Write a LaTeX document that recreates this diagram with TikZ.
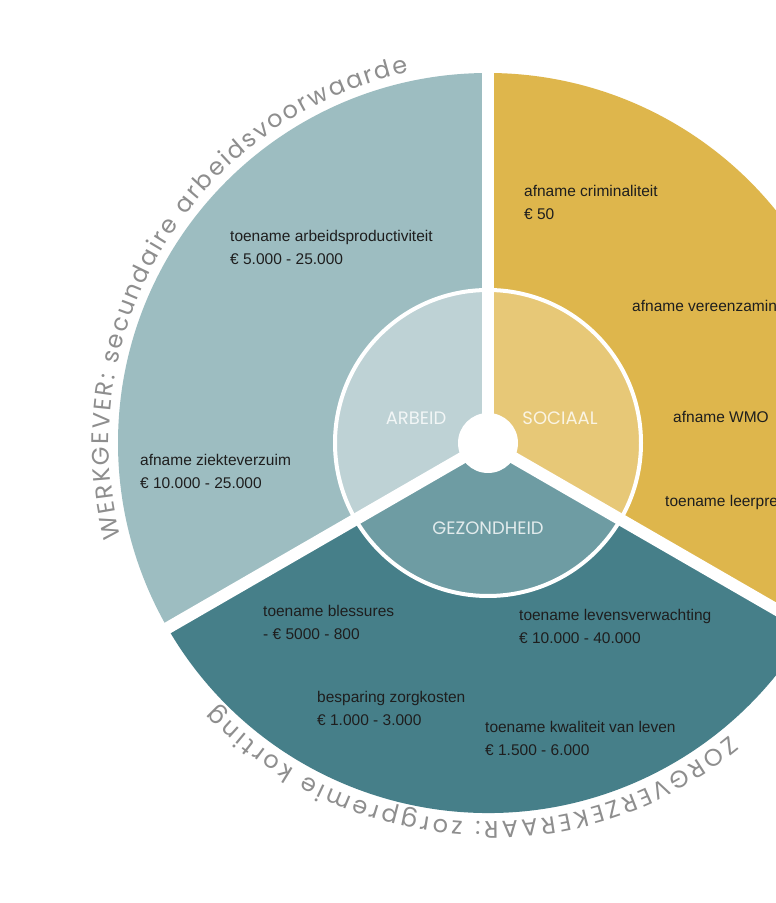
\documentclass[tikz,border=0pt]{standalone}
\usepackage{fontspec}
\setmainfont{Liberation Sans}
\newfontfamily\arcfont{Poppins}
\usepackage{tikz}
\usetikzlibrary{decorations.text}
\usepackage{xcolor}
\definecolor{arbeidout}{HTML}{9DBDC1}
\definecolor{arbeidin}{HTML}{BED2D5}
\definecolor{sociaalout}{HTML}{DEB64C}
\definecolor{sociaalin}{HTML}{E7C877}
\definecolor{gezondout}{HTML}{467F89}
\definecolor{gezondin}{HTML}{6E9CA3}
\definecolor{itemtext}{HTML}{1E1E1E}
\definecolor{arctext}{HTML}{8E8E8E}

\begin{document}
\begin{tikzpicture}[x=1pt, y=1pt,
  effect/.style={anchor=west, align=left, inner sep=0pt, text=itemtext, font=\fontsize{15.5}{23}\selectfont},
  domainlabel/.style={inner sep=0pt, text=white, text opacity=0.8, font=\arcfont\fontsize{18}{18}\selectfont},
  divider/.style={draw=white, line width=12pt},
  arclabel/.style={decorate, decoration={text along path, text align=fit to path, text={|\arcfont\fontsize{24}{24}\selectfont\color{arctext}|#1}}}]

\useasboundingbox (0,0) rectangle (776,903);
\clip (0,0) rectangle (776,903);
\fill[white] (0,0) rectangle (776,903);

\coordinate (hub) at (488,460);

% Outer sectors
\fill[arbeidout] (hub) -- ++(90:370) arc[start angle=90, end angle=210, radius=370] -- cycle;
\fill[sociaalout] (hub) -- ++(-30:370) arc[start angle=-30, end angle=90, radius=370] -- cycle;
\fill[gezondout] (hub) -- ++(210:370) arc[start angle=210, end angle=330, radius=370] -- cycle;

% Inner sectors
\fill[arbeidin] (hub) -- ++(90:153) arc[start angle=90, end angle=210, radius=153] -- cycle;
\fill[sociaalin] (hub) -- ++(-30:153) arc[start angle=-30, end angle=90, radius=153] -- cycle;
\fill[gezondin] (hub) -- ++(210:153) arc[start angle=210, end angle=330, radius=153] -- cycle;

% White separators
\draw[divider] (hub) -- ++(90:380);
\draw[divider] (hub) -- ++(210:380);
\draw[divider] (hub) -- ++(330:380);
\draw[white, line width=4pt] (hub) circle[radius=153];
\fill[white] (hub) circle[radius=30];

% Domains
\node[domainlabel] (arbeid) at (416,485) {ARBEID};
\node[domainlabel] (sociaal) at (560,485) {SOCIAAL};
\node[domainlabel] (gezondheid) at (488,375) {GEZONDHEID};

% Werkgever
\node[effect] (productiviteit) at (230,655.5) {toename arbeidsproductiviteit\\€ 5.000 - 25.000};
\node[effect] (ziekteverzuim) at (140,431.5) {afname ziekteverzuim\\€ 10.000 - 25.000};

% Sociaal
\node[effect] (criminaliteit) at (524,700.5) {afname criminaliteit\\€ 50};
\node[effect] (vereenzaming) at (632,596) {afname vereenzaming};
\node[effect] (wmo) at (673,486) {afname WMO};
\node[effect] (leerprestaties) at (665,401) {toename leerprestaties};

% Zorgverzekeraar
\node[effect] (blessures) at (263,280.5) {toename blessures\\- € 5000 - 800};
\node[effect] (zorgkosten) at (317,194.5) {besparing zorgkosten\\€ 1.000 - 3.000};
\node[effect] (levensverwachting) at (519,276.5) {toename levensverwachting\\€ 10.000 - 40.000};
\node[effect] (kwaliteit) at (485,165) {toename kwaliteit van leven\\€ 1.500 - 6.000};

% Curved titles
\path[arclabel={WERKGEVER: secundaire arbeidsvoorwaarde}] ([shift={(194.5:379)}]hub) arc[start angle=194.5, end angle=102, radius=379];
\path[arclabel={ZORGVERZEKERAAR: zorgpremie korting}] ([shift={(-50.5:379)}]hub) arc[start angle=-50.5, end angle=-136, radius=379];

\end{tikzpicture}
\end{document}
